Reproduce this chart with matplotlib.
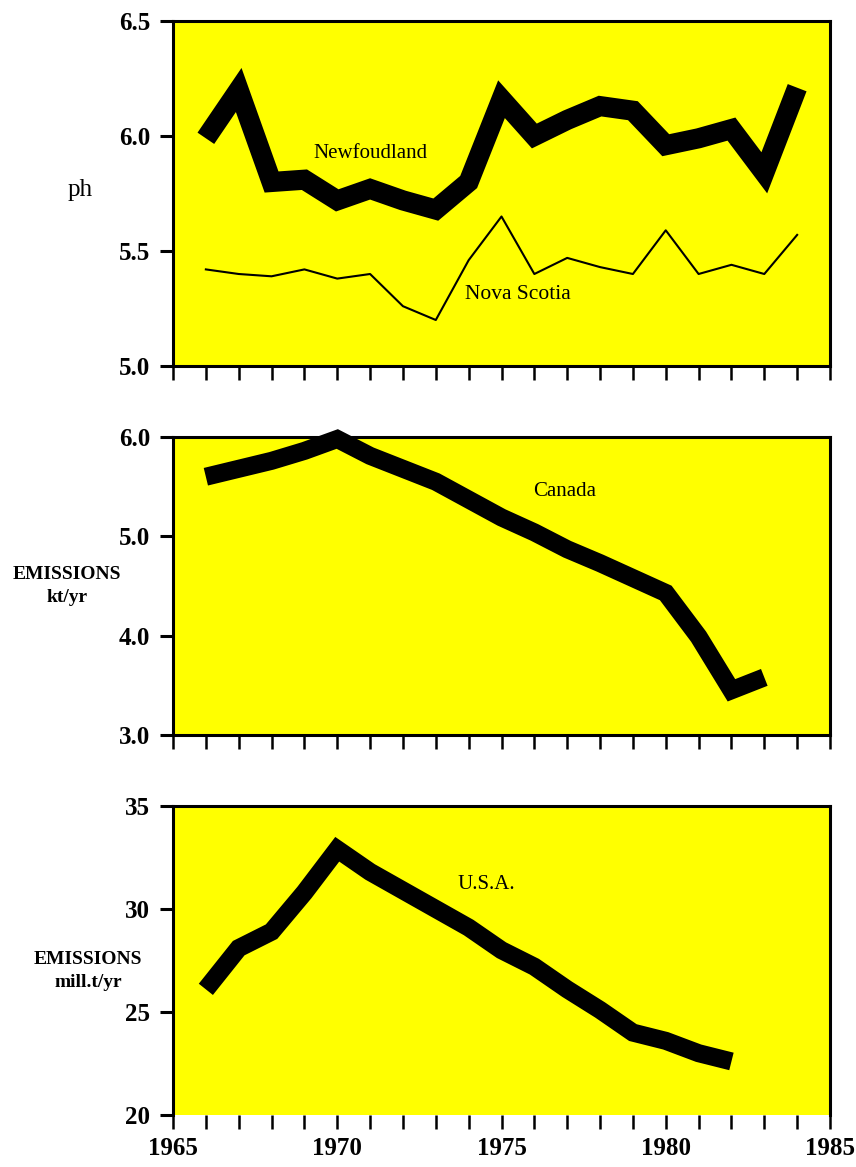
import numpy as np
import matplotlib
matplotlib.use("Agg")
import matplotlib.pyplot as plt

# data
years_nf = list(range(1966, 1985))
newfoundland = [5.99, 6.20, 5.80, 5.81, 5.72, 5.77, 5.72, 5.68, 5.80, 6.16,
                6.00, 6.07, 6.13, 6.11, 5.96, 5.99, 6.03, 5.84, 6.21]
nova_scotia = [5.42, 5.40, 5.39, 5.42, 5.38, 5.40, 5.26, 5.20, 5.46, 5.65,
               5.40, 5.47, 5.43, 5.40, 5.59, 5.40, 5.44, 5.40, 5.57]

years_ca = list(range(1966, 1984))
canada = [5.60, 5.68, 5.76, 5.86, 5.98, 5.81, 5.68, 5.55, 5.37, 5.19,
          5.04, 4.87, 4.73, 4.58, 4.43, 3.99, 3.45, 3.58]

years_us = list(range(1966, 1983))
usa = [26.1, 28.1, 28.9, 30.8, 32.9, 31.8, 30.9, 30.0, 29.1, 28.0,
       27.2, 26.1, 25.1, 24.0, 23.6, 23.0, 22.6]

ph_ticks = [5.0, 5.5, 6.0, 6.5]
ca_ticks = [3.0, 4.0, 5.0, 6.0]
us_ticks = [20, 25, 30, 35]
year_labels = [1965, 1970, 1975, 1980, 1985]

SERIF = "Liberation Serif"
YELLOW = "#FFFF00"

fig = plt.figure(figsize=(8.56, 11.67), dpi=100)

left, width = 173 / 856, 657 / 856


def panel(top_px, bottom_px):
    b = 1 - bottom_px / 1167
    h = (bottom_px - top_px) / 1167
    ax = fig.add_axes([left, b, width, h])
    ax.set_facecolor(YELLOW)
    for s in ax.spines.values():
        s.set_linewidth(2.2)
        s.set_color("black")
    ax.set_xlim(1965, 1985)
    ax.set_xticks(range(1965, 1986))
    ax.tick_params(axis="x", direction="out", length=10, width=1.8, labelbottom=False)
    ax.tick_params(axis="y", direction="out", length=9.5, width=2.2, pad=7)
    return ax


def ytick_fmt(ax, ticks, fmt):
    ax.set_yticks(ticks)
    ax.set_yticklabels([fmt.format(t) for t in ticks], fontfamily=SERIF,
                       fontweight="bold", fontsize=18)


# pH panel
ax1 = panel(21, 366)
ax1.set_ylim(5.0, 6.5)
ytick_fmt(ax1, ph_ticks, "{:.1f}")
ax1.plot(years_nf, newfoundland, color="black", lw=14.5, solid_joinstyle="miter",
         solid_capstyle="butt", clip_on=False)
ax1.plot(years_nf, nova_scotia, color="black", lw=1.5)
ax1.text(1971.0, 5.926, "Newfoudland", fontfamily=SERIF, fontsize=15, ha="center", va="center")
ax1.text(1975.5, 5.31, "Nova Scotia", fontfamily=SERIF, fontsize=15.5, ha="center", va="center")

# Canada panel
ax2 = panel(437, 735)
ax2.set_ylim(3.0, 6.0)
ytick_fmt(ax2, ca_ticks, "{:.1f}")
ax2.plot(years_ca, canada, color="black", lw=13, solid_joinstyle="miter",
         solid_capstyle="butt", clip_on=False)
ax2.text(1976.93, 5.45, "Canada", fontfamily=SERIF, fontsize=15, ha="center", va="center")

# USA panel
ax3 = panel(806, 1115)
ax3.set_ylim(20, 35)
ytick_fmt(ax3, us_ticks, "{:d}")
ax3.spines["bottom"].set_visible(False)
ax3.plot(years_us, usa, color="black", lw=13, solid_joinstyle="miter",
         solid_capstyle="butt", clip_on=False)
ax3.text(1974.53, 31.17, "U.S.A.", fontfamily=SERIF, fontsize=15, ha="center", va="center")
ax3.set_xticks(year_labels)
ax3.set_xticklabels([str(y) for y in year_labels], fontfamily=SERIF,
                    fontweight="bold", fontsize=18)
ax3.set_xticks(range(1965, 1986), minor=True)
ax3.tick_params(axis="x", which="both", direction="out", length=10, width=1.8,
                labelbottom=True, pad=6)

# axis titles
fig.text(80 / 856, 1 - 190 / 1167, "ph", fontfamily=SERIF, fontsize=18, ha="center", va="center")
fig.text(67 / 856, 1 - 586 / 1167, "EMISSIONS\nkt/yr", fontfamily=SERIF, fontweight="bold",
         fontsize=14, ha="center", va="center", linespacing=1.5)
fig.text(88 / 856, 1 - 971 / 1167, "EMISSIONS\nmill.t/yr", fontfamily=SERIF, fontweight="bold",
         fontsize=14, ha="center", va="center", linespacing=1.5)

fig.savefig("out.png", dpi=100)
